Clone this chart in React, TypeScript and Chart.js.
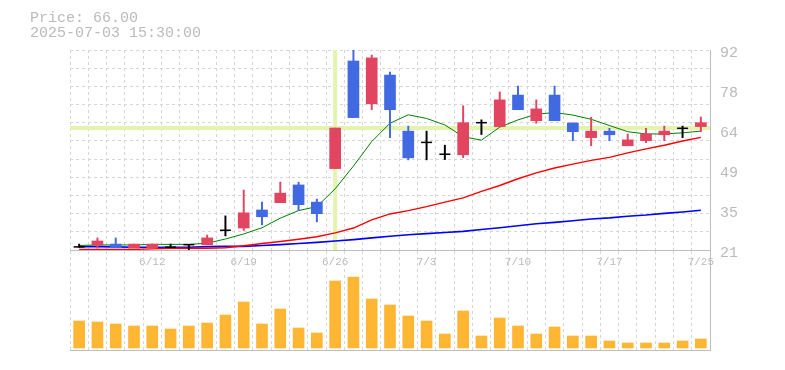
import React, { useEffect, useRef } from 'react';
import { Chart, registerables } from 'chart.js';

Chart.register(...registerables);

// ---- data ----
const dates = ['6/6', '6/9', '6/10', '6/11', '6/12', '6/13', '6/16', '6/17', '6/18', '6/19', '6/20', '6/23', '6/24', '6/25', '6/26', '6/27', '6/30', '7/1', '7/2', '7/3', '7/4', '7/7', '7/8', '7/9', '7/10', '7/11', '7/14', '7/15', '7/16', '7/17', '7/18', '7/22', '7/23', '7/24', '7/25'];
const tickLabels = ['6/12', '6/19', '6/26', '7/3', '7/10', '7/17', '7/25'];
const priceTickLabels = ['21', '35', '49', '64', '78', '92'];

const opens = [22.1, 22.7, 23.1, 21.7, 21.7, 22.0, 22.9, 22.9, 28.0, 28.8, 35.2, 37.8, 44.1, 38.0, 49.9, 88.1, 72.9, 83.1, 63.2, 59.2, 55.0, 54.8, 66.2, 64.8, 76.0, 66.9, 76.0, 66.1, 60.9, 63.2, 58.0, 59.8, 61.9, 64.2, 64.8];
const closes = [22.1, 24.2, 21.8, 23.1, 23.1, 22.0, 22.9, 25.3, 28.0, 34.2, 32.8, 41.2, 37.1, 33.9, 64.3, 68.0, 89.2, 70.8, 53.7, 59.2, 55.0, 66.2, 66.2, 74.3, 70.8, 71.1, 66.9, 63.0, 63.2, 61.9, 60.1, 62.2, 63.2, 64.2, 66.2];
const highs = [23.1, 25.3, 25.3, 23.1, 23.1, 23.1, 22.9, 26.3, 33.1, 42.3, 38.0, 45.1, 45.1, 39.1, 64.3, 92.0, 90.2, 84.2, 65.0, 63.2, 58.2, 72.2, 67.2, 77.1, 79.2, 74.3, 79.2, 66.1, 68.1, 64.2, 62.2, 64.2, 65.0, 65.0, 68.2];
const lows = [22.0, 21.7, 21.8, 21.7, 21.7, 22.0, 21.0, 22.9, 26.0, 27.9, 29.9, 37.8, 35.0, 31.0, 49.9, 68.0, 70.8, 60.9, 53.0, 53.0, 53.1, 53.8, 62.0, 64.8, 70.8, 66.0, 66.9, 59.8, 58.0, 59.8, 58.0, 59.1, 59.8, 60.9, 63.0];

const ma5 = [22.6, 22.8, 22.8, 22.8, 23.0, 23.0, 23.0, 23.4, 24.9, 26.7, 28.9, 32.3, 35.0, 36.4, 42.7, 50.8, 59.5, 66.0, 69.0, 67.7, 65.4, 61.2, 60.0, 64.6, 67.2, 69.2, 69.8, 68.9, 67.4, 65.2, 63.0, 62.2, 62.2, 62.6, 63.2];
const ma25 = [21.2, 21.2, 21.2, 21.2, 21.4, 21.6, 21.6, 21.6, 21.8, 22.5, 23.3, 24.0, 24.8, 25.7, 27.1, 28.8, 31.7, 33.8, 35.0, 36.4, 38.0, 39.5, 41.8, 43.9, 46.3, 48.4, 50.1, 51.5, 52.8, 53.9, 55.5, 56.9, 58.2, 59.7, 61.0];
const ma75 = [22.2, 22.2, 22.1, 22.0, 22.0, 22.0, 22.0, 22.2, 22.3, 22.3, 22.6, 22.9, 23.3, 23.7, 24.2, 24.7, 25.3, 25.9, 26.4, 26.8, 27.2, 27.6, 28.3, 28.9, 29.6, 30.3, 30.8, 31.4, 32.0, 32.4, 33.0, 33.4, 34.0, 34.5, 35.1];

const volumes = [270, 260, 240, 220, 220, 190, 220, 250, 330, 460, 240, 390, 200, 150, 670, 710, 490, 430, 320, 270, 140, 370, 120, 300, 220, 140, 210, 120, 120, 70, 50, 50, 50, 70, 90];

const priceMin = 21;
const priceMax = 92;
const crossIndex = 14;
const crossPrice = 64.3;
const infoPrice = 'Price: 66.00';
const infoTime = '2025-07-03 15:30:00';

// ---- styles ----
const MONO = "'Liberation Mono', 'DejaVu Sans Mono', monospace";
const UP = '#e2455f';
const DOWN = '#4169e1';
const DOJI = '#000000';
const GRID = '#d6d6d6';
const AXIS = '#bdbdbd';
const TEXT = '#bbbbbb';
const VOL = '#ffb733';
const CROSS = '#e4f3ad';

const dirColor = (i: number) => (closes[i] > opens[i] ? UP : closes[i] < opens[i] ? DOWN : DOJI);

const crosshairPlugin = {
  id: 'crosshair',
  beforeDatasetsDraw(chart: any) {
    const { ctx, chartArea, scales } = chart;
    const x = scales.x.getPixelForValue(crossIndex);
    const y = scales.y.getPixelForValue(crossPrice);
    ctx.save();
    ctx.beginPath();
    ctx.rect(chartArea.left, chartArea.top, chartArea.right - chartArea.left, chartArea.bottom - chartArea.top);
    ctx.clip();
    ctx.strokeStyle = CROSS;
    ctx.lineWidth = 4;
    ctx.beginPath();
    ctx.moveTo(chartArea.left, y);
    ctx.lineTo(chartArea.right, y);
    ctx.moveTo(x, chartArea.top);
    ctx.lineTo(x, chartArea.bottom);
    ctx.stroke();
    ctx.restore();
  },
};

export default function App() {
  const priceRef = useRef<HTMLCanvasElement | null>(null);
  const volRef = useRef<HTMLCanvasElement | null>(null);

  useEffect(() => {
    const bodies = dates.map((_, i) => (opens[i] === closes[i] ? null : [Math.min(opens[i], closes[i]), Math.max(opens[i], closes[i])]));
    const wicks = dates.map((_, i) => [lows[i], highs[i]]);
    const dojis = dates.map((_, i) => (opens[i] === closes[i] ? opens[i] : null));
    const colors = dates.map((_, i) => dirColor(i));

    const priceChart = new Chart(priceRef.current as HTMLCanvasElement, {
      type: 'bar',
      data: {
        labels: dates,
        datasets: [
          {
            type: 'line',
            label: 'doji',
            data: dojis as any,
            showLine: false,
            pointStyle: 'line',
            pointRadius: 5.5,
            pointHoverRadius: 5.5,
            borderColor: DOJI,
            backgroundColor: DOJI,
            pointBorderWidth: 1.5,
            yAxisID: 'y',
          } as any,
          {
            type: 'bar',
            label: 'body',
            data: bodies as any,
            backgroundColor: colors,
            barThickness: 11,
            grouped: false,
            yAxisID: 'y',
          } as any,
          {
            type: 'bar',
            label: 'wick',
            data: wicks as any,
            backgroundColor: colors,
            barThickness: 1.3,
            grouped: false,
            yAxisID: 'y',
          } as any,
          { type: 'line', label: 'MA5', data: ma5, borderColor: '#008000', borderWidth: 1, pointRadius: 0, tension: 0, yAxisID: 'y' } as any,
          { type: 'line', label: 'MA25', data: ma25, borderColor: '#ff0000', borderWidth: 1.4, pointRadius: 0, tension: 0, yAxisID: 'y' } as any,
          { type: 'line', label: 'MA75', data: ma75, borderColor: '#0000ff', borderWidth: 1.6, pointRadius: 0, tension: 0, yAxisID: 'y' } as any,
        ],
      },
      options: {
        responsive: false,
        animation: false,
        events: [],
        layout: { padding: { top: 50, left: 70, right: 0, bottom: 0 } },
        plugins: { legend: { display: false }, tooltip: { enabled: false } },
        scales: {
          x: {
            type: 'category',
            offset: true,
            grid: { offset: true, color: GRID, drawTicks: false },
            border: { color: AXIS, width: 1, dash: [3, 3] },
            ticks: {
              autoSkip: false,
              maxRotation: 0,
              padding: 5,
              color: TEXT,
              font: { family: MONO, size: 11 },
              callback: (_v: any, i: number) => (tickLabels.includes(dates[i]) ? dates[i] : ''),
            },
            afterFit: (s: any) => {
              s.height = 20;
            },
          },
          y: {
            position: 'right',
            min: priceMin,
            max: priceMax,
            grid: { display: false, drawTicks: false },
            border: { color: AXIS, width: 1 },
            ticks: {
              count: priceTickLabels.length,
              padding: 10,
              labelOffset: 3,
              color: TEXT,
              font: { family: MONO, size: 15 },
              callback: (_v: any, i: number) => priceTickLabels[i],
            },
            afterFit: (s: any) => {
              s.width = 75;
            },
          },
          yGrid: {
            position: 'right',
            min: priceMin,
            max: priceMax,
            grid: { color: GRID, drawTicks: false },
            border: { display: false, dash: [3, 3] },
            ticks: { display: false, count: 12 },
            afterFit: (s: any) => {
              s.width = 0;
            },
          },
        } as any,
      },
      plugins: [crosshairPlugin],
    });

    const volChart = new Chart(volRef.current as HTMLCanvasElement, {
      type: 'bar',
      data: {
        labels: dates,
        datasets: [{ label: 'volume', data: volumes, backgroundColor: VOL, barThickness: 11 }],
      },
      options: {
        responsive: false,
        animation: false,
        events: [],
        layout: { padding: { top: 1, left: 70, right: 0, bottom: 20 } },
        plugins: { legend: { display: false }, tooltip: { enabled: false } },
        scales: {
          x: {
            type: 'category',
            offset: true,
            grid: { offset: true, color: GRID, drawTicks: false },
            border: { color: AXIS, width: 1, dash: [3, 3] },
            ticks: { display: false },
            afterFit: (s: any) => {
              s.height = 0;
            },
          },
          y: {
            position: 'right',
            min: -20,
            max: 970,
            grid: { display: false, drawTicks: false },
            border: { color: AXIS, width: 1 },
            ticks: { display: false },
            afterFit: (s: any) => {
              s.width = 75;
            },
          },
        } as any,
      },
    });

    return () => {
      priceChart.destroy();
      volChart.destroy();
    };
  }, []);

  return (
    <div style={{ position: 'absolute', left: 0, top: 0, width: 785, height: 370, background: '#fff', overflow: 'hidden' }}>
      <canvas ref={priceRef} width={785} height={270} style={{ position: 'absolute', left: 0, top: 0, width: 785, height: 270 }} />
      <canvas ref={volRef} width={785} height={120} style={{ position: 'absolute', left: 0, top: 250, width: 785, height: 120 }} />
      <div
        style={{
          position: 'absolute',
          left: 30,
          top: 11,
          fontFamily: MONO,
          fontSize: 15,
          lineHeight: '15px',
          color: TEXT,
          whiteSpace: 'pre',
        }}
      >
        {infoPrice}
        {'\n'}
        {infoTime}
      </div>
    </div>
  );
}
